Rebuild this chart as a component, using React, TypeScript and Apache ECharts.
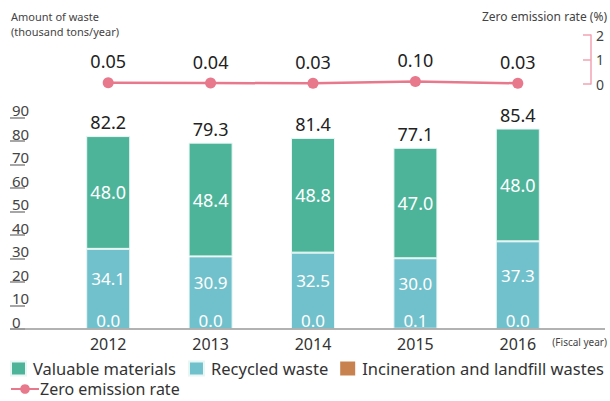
import React, { useEffect, useRef } from "react";
import * as echarts from "echarts";

const years = ["2012", "2013", "2014", "2015", "2016"];
const valuable = [48.0, 48.4, 48.8, 47.0, 48.0];
const recycled = [34.1, 30.9, 32.5, 30.0, 37.3];
const incineration = [0.0, 0.0, 0.0, 0.1, 0.0];
const totals = [82.2, 79.3, 81.4, 77.1, 85.4];
const zeroEmission = [0.05, 0.04, 0.03, 0.1, 0.03];

const FONT = "'Noto Sans', 'Open Sans', sans-serif";
const GREEN = "#4db49a";
const CYAN = "#71c1cc";
const ORANGE = "#c8824f";
const PINK = "#e8788b";

const GRID_LEFT = 57;
const GRID_RIGHT = 41;
const BAR_TOP = 117.5;
const BAR_BOTTOM_Y = 329;

export default function App() {
  const ref = useRef<HTMLDivElement>(null);
  useEffect(() => {
    if (!ref.current) return;
    const chart = echarts.init(ref.current, null, { renderer: "svg" });
    chart.setOption({
      animation: false,
      textStyle: { fontFamily: FONT },
      grid: [
        { left: GRID_LEFT, right: GRID_RIGHT, top: 35, height: 49 },
        { left: GRID_LEFT, right: GRID_RIGHT, top: BAR_TOP, height: BAR_BOTTOM_Y - BAR_TOP },
      ],
      xAxis: [
        { type: "category", gridIndex: 0, data: years, show: false },
        {
          type: "category",
          gridIndex: 1,
          data: years,
          axisLine: { show: false },
          axisTick: { show: false },
          axisLabel: { color: "#333", fontSize: 16, margin: 7, fontFamily: FONT },
        },
      ],
      yAxis: [
        {
          type: "value",
          gridIndex: 0,
          position: "right",
          offset: 22,
          min: 0,
          max: 2,
          interval: 1,
          splitLine: { show: false },
          axisLine: { show: true, lineStyle: { color: "#f2a3b3", width: 1.5 } },
          axisTick: { show: true, inside: true, length: 8, lineStyle: { color: "#f2a3b3", width: 1.5 } },
          axisLabel: { color: "#444", fontSize: 14, margin: 5, fontFamily: FONT },
        },
        {
          type: "value",
          gridIndex: 1,
          position: "left",
          offset: GRID_LEFT - 10,
          min: 0,
          max: 90,
          interval: 10,
          splitLine: { show: false },
          axisLine: { show: false },
          axisTick: { show: true, inside: true, length: 15, lineStyle: { color: "#888", width: 1.5 } },
          axisLabel: {
            inside: true,
            align: "left",
            verticalAlign: "bottom",
            margin: 2,
            color: "#444",
            fontSize: 15,
            fontFamily: FONT,
          },
        },
      ],
      legend: [
        {
          data: ["Valuable materials", "Recycled waste", "Incineration and landfill wastes"],
          left: 10,
          top: 360,
          width: 600,
          icon: "rect",
          itemWidth: 15,
          itemHeight: 14,
          itemGap: 12,
          padding: 0,
          textStyle: { color: "#333", fontSize: 16.5, fontFamily: FONT, padding: [0, 0, 0, 2] },
        },
        {
          data: ["Zero emission rate"],
          left: 10,
          top: 381,
          itemWidth: 28,
          itemHeight: 12,
          padding: 0,
          textStyle: { color: "#333", fontSize: 16, lineHeight: 16, fontFamily: FONT, padding: [0, 0, 0, -4] },
        },
      ],
      graphic: [
        {
          type: "text",
          left: 11,
          top: 9,
          style: { text: "Amount of waste\n(thousand tons/year)", fill: "#444", fontSize: 11, lineHeight: 15, fontFamily: FONT },
        },
        {
          type: "text",
          right: 3,
          top: 10,
          style: { text: "Zero emission rate (%)", fill: "#444", fontSize: 12, fontFamily: FONT },
        },
        {
          type: "text",
          right: 3,
          top: 337,
          style: { text: "(Fiscal year)", fill: "#444", fontSize: 10, fontFamily: FONT },
        },
        {
          type: "line",
          shape: { x1: 10, y1: BAR_BOTTOM_Y, x2: 605, y2: BAR_BOTTOM_Y },
          style: { stroke: "#999", lineWidth: 1.5 },
          z: 10,
        },
      ],
      series: [
        {
          name: "Incineration and landfill wastes",
          type: "bar",
          xAxisIndex: 1,
          yAxisIndex: 1,
          stack: "w",
          barWidth: 44,
          data: incineration,
          itemStyle: { color: ORANGE },
          label: {
            show: true,
            position: "top",
            distance: 0,
            color: "#fff",
            fontSize: 17,
            fontFamily: FONT,
            formatter: (p: any) => p.value.toFixed(1),
          },
        },
        {
          name: "Recycled waste",
          type: "bar",
          xAxisIndex: 1,
          yAxisIndex: 1,
          stack: "w",
          barWidth: 44,
          data: recycled,
          itemStyle: { color: CYAN, borderColor: "#e8f6f4", borderWidth: 1 },
          label: {
            show: true,
            position: "inside",
            offset: [0, -10],
            color: "#fff",
            fontSize: 17,
            fontFamily: FONT,
            formatter: (p: any) => p.value.toFixed(1),
          },
        },
        {
          name: "Valuable materials",
          type: "bar",
          xAxisIndex: 1,
          yAxisIndex: 1,
          stack: "w",
          barWidth: 44,
          data: valuable,
          itemStyle: { color: GREEN, borderColor: "#e8f6f4", borderWidth: 1 },
          label: {
            show: true,
            position: "inside",
            color: "#fff",
            fontSize: 18,
            fontFamily: FONT,
            formatter: (p: any) => p.value.toFixed(1),
          },
        },
        {
          name: "Total",
          type: "bar",
          xAxisIndex: 1,
          yAxisIndex: 1,
          stack: "w",
          barWidth: 44,
          data: totals.map(() => 0),
          itemStyle: { color: "transparent" },
          label: {
            show: true,
            position: "top",
            distance: 5,
            color: "#222",
            fontSize: 18,
            fontFamily: FONT,
            formatter: (p: any) => totals[p.dataIndex].toFixed(1),
          },
        },
        {
          name: "Zero emission rate",
          type: "line",
          xAxisIndex: 0,
          yAxisIndex: 0,
          data: zeroEmission,
          symbol: "circle",
          symbolSize: 11,
          itemStyle: { color: PINK },
          lineStyle: { color: PINK, width: 2.5 },
          label: {
            show: true,
            position: "top",
            distance: 7,
            color: "#222",
            fontSize: 18,
            fontFamily: FONT,
            formatter: (p: any) => p.value.toFixed(2),
          },
        },
      ],
    });
    return () => chart.dispose();
  }, []);
  return (
    <div
      ref={ref}
      style={{ position: "fixed", left: 0, top: 0, width: 610, height: 401, background: "#fff" }}
    />
  );
}
